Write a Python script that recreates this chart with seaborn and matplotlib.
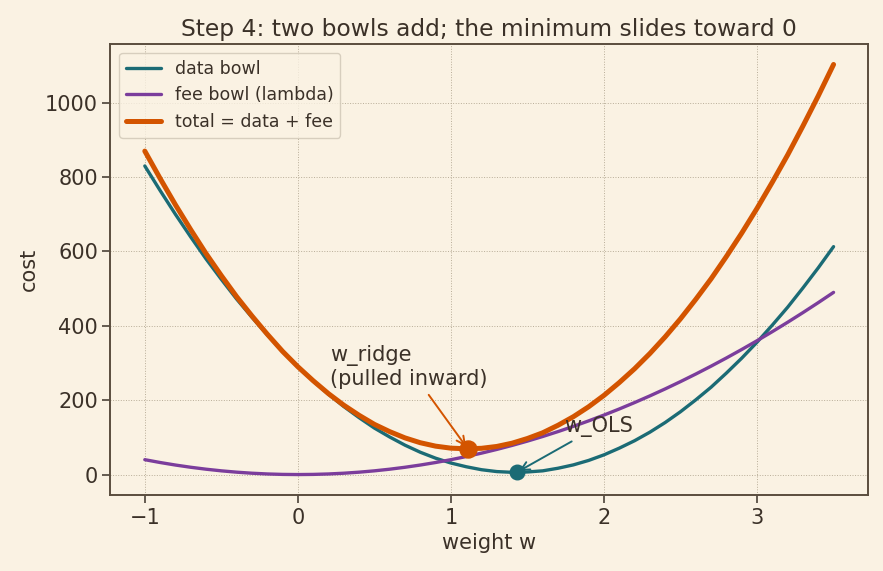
import numpy as np
import pandas as pd
import matplotlib
matplotlib.use("Agg")
import matplotlib.pyplot as plt
import seaborn as sns

# values, every 0.1 along w
weights = [-1.0, -0.9, -0.8, -0.7, -0.6, -0.5, -0.4, -0.3, -0.2, -0.1,
           0.0, 0.1, 0.2, 0.3, 0.4, 0.5, 0.6, 0.7, 0.8, 0.9,
           1.0, 1.1, 1.2, 1.3, 1.4, 1.5, 1.6, 1.7, 1.8, 1.9,
           2.0, 2.1, 2.2, 2.3, 2.4, 2.5, 2.6, 2.7, 2.8, 2.9,
           3.0, 3.1, 3.2, 3.3, 3.4, 3.5]
data_cost = [830, 764, 700, 639, 580, 525, 472, 423, 376, 331,
             290, 252, 216, 183, 153, 125, 101, 79, 60, 44,
             31, 21, 13, 8, 6, 7, 10, 17, 26, 38,
             53, 71, 91, 114, 140, 169, 201, 235, 273, 313,
             356, 402, 450, 502, 556, 613]
fee_cost = [40, 32.4, 25.6, 19.6, 14.4, 10, 6.4, 3.6, 1.6, 0.4,
            0, 0.4, 1.6, 3.6, 6.4, 10, 14.4, 19.6, 25.6, 32.4,
            40, 48.4, 57.6, 67.6, 78.4, 90, 102.4, 115.6, 129.6, 144.4,
            160, 176.4, 193.6, 211.6, 230.4, 250, 270.4, 291.6, 313.6, 336.4,
            360, 384.4, 409.6, 435.6, 462.4, 490]
total_cost = [d + f for d, f in zip(data_cost, fee_cost)]

w_ols, cost_ols = 1.43, 6
w_ridge, cost_ridge = 1.11, 69

BG = "#faf2e3"
INK = "#3b3128"
TEAL = "#1b6b75"
PURPLE = "#7b3d9c"
ORANGE = "#d35400"

sns.set_theme(style="whitegrid")
plt.rcParams.update({
    "figure.facecolor": BG,
    "axes.facecolor": BG,
    "axes.edgecolor": "#5a4d3e",
    "axes.linewidth": 1.4,
    "text.color": INK,
    "axes.labelcolor": INK,
    "xtick.color": INK,
    "ytick.color": INK,
    "grid.color": "#b8ad98",
    "grid.linestyle": ":",
    "grid.linewidth": 0.7,
    "xtick.bottom": True,
    "ytick.left": True,
    "xtick.major.size": 5.5,
    "ytick.major.size": 5.5,
    "xtick.major.width": 1.1,
    "ytick.major.width": 1.1,
})
plt.rcParams["font.family"] = ["DejaVu Sans"]

df = pd.DataFrame({"w": weights, "data": data_cost, "fee": fee_cost, "total": total_cost})

fig, ax = plt.subplots(figsize=(8.83, 5.71), dpi=100)

sns.lineplot(data=df, x="w", y="data", ax=ax, color=TEAL, lw=2.4, label="data bowl")
sns.lineplot(data=df, x="w", y="fee", ax=ax, color=PURPLE, lw=2.4, label="fee bowl (lambda)")
sns.lineplot(data=df, x="w", y="total", ax=ax, color=ORANGE, lw=3.6, label="total = data + fee")

ax.scatter([w_ols], [cost_ols], s=110, color=TEAL, zorder=5)
ax.scatter([w_ridge], [cost_ridge], s=150, color=ORANGE, zorder=5)

ax.annotate("w_ridge\n(pulled inward)", xy=(w_ridge, cost_ridge), xytext=(0.21, 240),
            fontsize=15, color=INK,
            arrowprops=dict(arrowstyle="->", color=ORANGE, lw=1.4))
ax.annotate("w_OLS", xy=(w_ols, cost_ols), xytext=(1.74, 115),
            fontsize=15, color=INK,
            arrowprops=dict(arrowstyle="->", color=TEAL, lw=1.4))

ax.set_title("Step 4: two bowls add; the minimum slides toward 0", fontsize=16.8, color=INK)
ax.set_xlabel("weight w", fontsize=15)
ax.set_ylabel("cost", fontsize=15)
ax.tick_params(labelsize=15)
ax.set_xticks([-1, 0, 1, 2, 3])
ax.set_yticks([0, 200, 400, 600, 800, 1000])

leg = ax.legend(loc="upper left", fontsize=12.5, frameon=True)
leg.get_frame().set_facecolor(BG)
leg.get_frame().set_edgecolor("#cfc6b5")
for t in leg.get_texts():
    t.set_color(INK)

fig.subplots_adjust(left=0.125, right=0.983, top=0.923, bottom=0.133)
fig.savefig("out.png", dpi=100, facecolor=BG)
